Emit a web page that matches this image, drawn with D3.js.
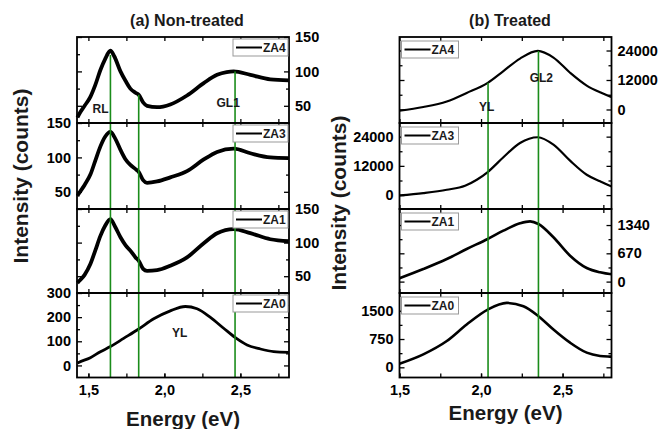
<!DOCTYPE html>
<html>
<head>
<meta charset="utf-8">
<script src="https://cdn.jsdelivr.net/npm/d3@7"></script>
<style>
  body { margin: 0; background: #fff; }
  svg { display: block; font-family: "Liberation Sans", Arial, sans-serif; }
</style>
</head>
<body>
<svg id="chart" width="660" height="429"></svg>
<script>
// ---------- DATA ----------
const panelTitles = ["(a) Non-treated", "(b) Treated"];
const seriesNames = ["ZA4", "ZA3", "ZA1", "ZA0"];
const xTickValues = [1.5, 2.0, 2.5];
const xTickLabels = ["1,5", "2,0", "2,5"];
const xMinorTicks = [1.5, 1.75, 2.0, 2.25, 2.5, 2.75];

// Non-treated (energy eV, counts)
const ntZA4 = [[1.428,33],[1.436,36.6],[1.475,50],[1.513,63],[1.545,80],[1.579,102],[1.61,118],[1.645,130],[1.67,122],[1.711,100],[1.745,86],[1.776,75],[1.81,69],[1.831,66],[1.86,55],[1.886,50],[1.952,48],[2.039,52],[2.149,65],[2.259,83],[2.347,95],[2.41,99],[2.456,100],[2.566,95],[2.697,88.5],[2.818,87]];
const ntZA3 = [[1.428,44],[1.436,47],[1.475,60],[1.513,75],[1.545,95],[1.579,116],[1.61,130],[1.645,137],[1.675,128],[1.711,111],[1.745,97],[1.776,89],[1.81,83],[1.831,79],[1.86,67],[1.886,63],[1.952,65],[2.039,71],[2.149,80],[2.259,97],[2.347,108],[2.456,112.7],[2.566,106],[2.697,100],[2.818,99]];
const ntZA1 = [[1.428,40],[1.436,42],[1.475,52],[1.513,68],[1.545,88],[1.579,110],[1.61,125],[1.645,135],[1.675,124],[1.711,108],[1.745,96],[1.776,88],[1.81,78],[1.831,73],[1.86,61],[1.886,58],[1.952,59],[2.039,65.6],[2.149,78],[2.259,99],[2.347,114],[2.456,120],[2.566,114],[2.697,105],[2.818,102]];
const ntZA0 = [[1.428,10],[1.436,12.5],[1.513,32],[1.579,57],[1.645,78],[1.732,112],[1.831,151],[1.93,193],[2.039,226],[2.138,244],[2.215,235],[2.303,199],[2.39,154],[2.467,115],[2.544,85],[2.632,68],[2.719,57],[2.818,54]];

// Treated
const trZA4 = [[1.5,-500],[1.646,1000],[1.79,3270],[1.912,6730],[2.041,10850],[2.137,15630],[2.239,20720],[2.348,23860],[2.444,21140],[2.546,14960],[2.648,9730],[2.73,6970],[2.79,5330],[2.8,5100]];
const trZA3 = [[1.5,-150],[1.646,845],[1.79,2200],[1.902,3850],[1.974,6320],[2.041,9480],[2.137,15530],[2.239,21410],[2.348,23760],[2.444,20710],[2.546,14130],[2.648,8370],[2.73,5660],[2.79,3850],[2.8,3600]];
const trZA1 = [[1.5,80],[1.646,298],[1.79,535],[1.912,772],[2.041,1009],[2.137,1206],[2.239,1381],[2.301,1428],[2.352,1365],[2.444,1050],[2.546,614],[2.648,322],[2.73,220],[2.79,180],[2.8,178]];
const trZA0 = [[1.5,95],[1.646,344],[1.79,697],[1.912,1135],[2.041,1530],[2.158,1707],[2.26,1619],[2.352,1356],[2.444,1003],[2.546,653],[2.648,389],[2.73,302],[2.79,284],[2.8,282]];

// y domains and ticks per subplot
const ntDomains = [[25,150],[25,150],[25,150],[-50,300]];
const ntMajor = [[50,100,150],[50,100,150],[50,100,150],[0,100,200,300]];
const ntMinor = [[25,75,125],[25,75,125],[25,75,125],[-50,50,150,250]];
const trDomains = [[-5500,29500],[-5700,29600],[-270,1720],[-270,1970]];
const trMajor = [[0,12000,24000],[0,12000,24000],[0,670,1340],[0,750,1500]];
const trMinor = [[-6000,6000,18000],[6000,18000],[335,1005],[375,1125]];
const labelSides = ["right","left","right","left"];

// green marker lines: energy and top value (ZA4 units)
const ntGreen = [[1.645,124],[1.831,66],[2.465,100]];
const trGreen = [[2.043,10900],[2.352,23800]];

// annotations: [text, energy, value, subplot index]
const ntNotes = [["RL",1.58,45,0],["GL1",2.42,55,0],["YL",2.1,135,3]];
const trNotes = [["YL",2.035,1000,0],["GL2",2.37,13000,0]];

// ---------- LAYOUT ----------
const svg = d3.select("#chart");
const rows = [37, 123, 209, 293, 377.5];

const panels = [
  { title: panelTitles[0], x: d3.scaleLinear().domain([1.425, 2.82]).range([77, 289]),
    data: [ntZA4, ntZA3, ntZA1, ntZA0], domains: ntDomains, major: ntMajor, minor: ntMinor,
    green: ntGreen, notes: ntNotes, strokes: [3.8, 3.8, 3.8, 2.8], legendW: 55, legendInset: 1, legendDy: 2,
    ylabelX: 21, ylabelY: 176, xlabelY: 426, titleX: 187 },
  { title: panelTitles[1], x: d3.scaleLinear().domain([1.5, 2.8]).range([399.5, 611.5]),
    data: [trZA4, trZA3, trZA1, trZA0], domains: trDomains, major: trMajor, minor: trMinor,
    green: trGreen, notes: trNotes, strokes: [2.2, 2.2, 2.6, 2.6], legendW: 57, legendInset: -2, legendDy: 4,
    ylabelX: 339, ylabelY: 203, xlabelY: 420, titleX: 510 }
];

panels.forEach(p => {
  const x = p.x;
  const [x0, x1] = x.range();
  const g = svg.append("g");
  const ys = p.domains.map((d, i) => d3.scaleLinear().domain(d).range([rows[i+1], rows[i]]));

  // curves
  p.data.forEach((d, i) => {
    const line = d3.line().x(v => x(v[0])).y(v => ys[i](v[1])).curve(d3.curveMonotoneX);
    g.append("path").attr("d", line(d)).attr("fill", "none")
      .attr("stroke", "#000").attr("stroke-width", p.strokes[i]).attr("stroke-linejoin", "round");
  });

  // green vertical lines
  p.green.forEach(gl => {
    g.append("line").attr("x1", x(gl[0])).attr("x2", x(gl[0]))
      .attr("y1", ys[0](gl[1])).attr("y2", rows[4])
      .attr("stroke", "#1a8c1a").attr("stroke-width", 1.6);
  });

  // axes per subplot
  p.data.forEach((d, i) => {
    const y = ys[i];
    const top = rows[i], bot = rows[i+1];
    const side = labelSides[i];
    const fmt = v => String(v);
    const mk = (axisFn, pos, scale, vals, size, labels) => {
      const a = axisFn(scale).tickValues(vals).tickSizeInner(-size).tickSizeOuter(0).tickPadding(6);
      a.tickFormat(labels ? labels : () => "");
      const ag = g.append("g").attr("transform", pos).call(a);
      ag.select(".domain").remove();
      ag.selectAll("line").attr("stroke", "#000").attr("stroke-width", 1.3);
      ag.selectAll("text").attr("fill", "#000").attr("font-size", 14.5).attr("font-weight", "bold").attr("font-family", null);
      return ag;
    };
    // y axes
    mk(d3.axisLeft, `translate(${x0},0)`, y, p.major[i], 5, side === "left" ? fmt : null);
    mk(d3.axisLeft, `translate(${x0},0)`, y, p.minor[i].filter(v => y(v) > top + 1 && y(v) < bot - 1), 3, null);
    mk(d3.axisRight, `translate(${x1},0)`, y, p.major[i], 5, side === "right" ? fmt : null);
    mk(d3.axisRight, `translate(${x1},0)`, y, p.minor[i].filter(v => y(v) > top + 1 && y(v) < bot - 1), 3, null);
    // x ticks
    mk(d3.axisTop, `translate(0,${top})`, x, xMinorTicks, 4, null);
    mk(d3.axisBottom, `translate(0,${bot})`, x, xMinorTicks, 4, null);
    if (i === 3) {
      const lab = mk(d3.axisBottom, `translate(0,${bot})`, x, xTickValues, 4, (v, k) => xTickLabels[k]);
      lab.selectAll("text").attr("font-size", 14.5).attr("dy", "0.71em").attr("y", 7);
    }
    // frame
    g.append("rect").attr("x", x0).attr("y", top).attr("width", x1 - x0).attr("height", bot - top)
      .attr("fill", "none").attr("stroke", "#000").attr("stroke-width", 1.8);
  });

  // annotations
  p.notes.forEach(n => {
    g.append("text").attr("x", x(n[1])).attr("y", ys[n[3]](n[2])).attr("text-anchor", "middle")
      .attr("dy", "0.35em").attr("font-size", 12).attr("font-weight", "bold").attr("fill", "#1a1a1a").text(n[0]);
  });

  // legends
  seriesNames.forEach((name, i) => {
    const top = rows[i];
    const w = p.legendW, h = 17;
    const lx = p.legendInset >= 0 ? x1 - w - p.legendInset : x0 + (-p.legendInset);
    const ly = top + p.legendDy;
    const lg = g.append("g");
    lg.append("rect").attr("x", lx).attr("y", ly).attr("width", w).attr("height", h)
      .attr("fill", "#fff").attr("stroke", "#999").attr("stroke-width", 1);
    lg.append("line").attr("x1", lx + 3).attr("x2", lx + 29).attr("y1", ly + h/2).attr("y2", ly + h/2)
      .attr("stroke", "#000").attr("stroke-width", 2);
    lg.append("text").attr("x", lx + 30).attr("y", ly + h/2).attr("dy", "0.36em")
      .attr("font-size", 12).attr("font-weight", "bold").attr("fill", "#1a1a1a").text(name);
  });

  // title
  svg.append("text").attr("x", p.titleX).attr("y", 26).attr("text-anchor", "middle")
    .attr("font-size", 16).attr("font-weight", "bold").attr("fill", "#1a1a1a").text(p.title);
  // y label
  svg.append("text").attr("transform", `translate(${p.ylabelX},${p.ylabelY}) rotate(-90)`)
    .attr("text-anchor", "middle").attr("dy", "0.35em")
    .attr("font-size", 21).attr("font-weight", "bold").attr("fill", "#1a1a1a").text("Intensity (counts)");
  // x label
  svg.append("text").attr("x", (x0 + x1) / 2).attr("y", p.xlabelY).attr("text-anchor", "middle")
    .attr("font-size", 20.5).attr("font-weight", "bold").attr("fill", "#1a1a1a").text("Energy (eV)");
});
</script>
</body>
</html>
